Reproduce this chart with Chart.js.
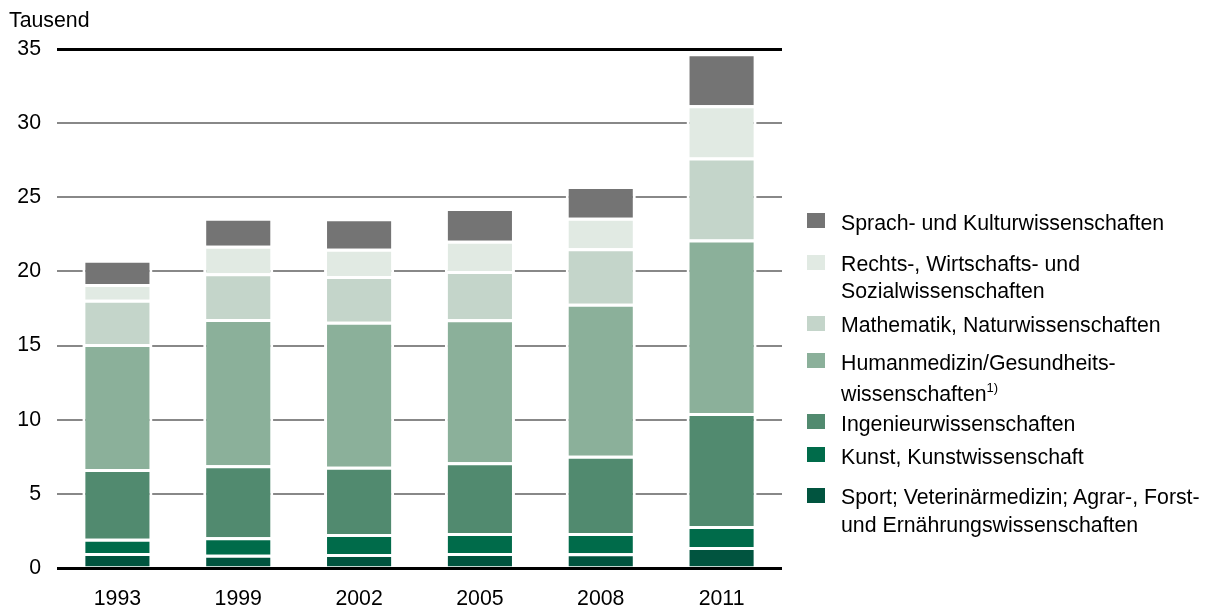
<!DOCTYPE html>
<html>
<head>
<meta charset="utf-8">
<script src="https://cdn.jsdelivr.net/npm/chart.js@4/dist/chart.umd.min.js"></script>
<style>
  html, body { margin: 0; padding: 0; background: #fff; }
  body { width: 1209px; height: 610px; position: relative; overflow: hidden;
         font-family: "Liberation Sans", Arial, sans-serif; color: #000; }
  #c { position: absolute; left: 0; top: 0; }
  #unit { position: absolute; left: 9px; top: 8px; font-size: 21.3px; line-height: 24px; }
  .item { position: absolute; left: 841px; font-size: 21.3px; line-height: 27px; white-space: nowrap; }
  .sw { position: absolute; left: -34px; width: 18px; height: 15px; }
  .sup { font-size: 13px; position: relative; top: -9px; }
</style>
</head>
<body>
<canvas id="c" width="1209" height="610"></canvas>
<div id="unit">Tausend</div>
<div id="legend"></div>
<script>
// ---- data (thousands) ----
const categories = ['1993', '1999', '2002', '2005', '2008', '2011'];
const sport     = [1.01, 0.90, 0.94, 1.01, 0.99, 1.42];
const kunst     = [0.97, 1.17, 1.35, 1.35, 1.37, 1.41];
const ingenieur = [4.70, 4.86, 4.54, 4.77, 5.21, 7.62];
const humanmed  = [8.42, 9.86, 9.78, 9.64, 10.25, 11.71];
const mathNat   = [2.99, 3.08, 3.08, 3.26, 3.74, 5.53];
const rechts    = [1.06, 1.86, 1.84, 2.04, 2.06, 3.51];
const sprach    = [1.64, 1.89, 2.05, 2.20, 2.14, 3.51];
const yTicks    = [0, 5, 10, 15, 20, 25, 30, 35];

const seriesNames = [
  ['Sport; Veterinärmedizin; Agrar-, Forst-', 'und Ernährungswissenschaften'],
  ['Kunst, Kunstwissenschaft'],
  ['Ingenieurwissenschaften'],
  ['Humanmedizin/Gesundheits-', 'wissenschaften'],
  ['Mathematik, Naturwissenschaften'],
  ['Rechts-, Wirtschafts- und', 'Sozialwissenschaften'],
  ['Sprach- und Kulturwissenschaften']
];
const footnotes = ['', '', '', '1)', '', '', ''];
const seriesValues = [sport, kunst, ingenieur, humanmed, mathNat, rechts, sprach];
const seriesColors = ['#01543f', '#006b4a', '#518a6f', '#8bb09a', '#c4d5ca', '#e1eae3', '#747474'];

// legend layout (first-line baselines in px, and extra gap before 2nd line)
const legendBaselines = [505.3, 465, 431.7, 371, 333.3, 272.3, 230.7];
const legendSecondGap = [0.4, 0, 0, 4.3, 0, 0, 0];

const datasets = seriesValues.map((vals, i) => ({
  label: seriesNames[i].join(' '),
  data: vals,
  backgroundColor: seriesColors[i],
  borderColor: '#ffffff',
  borderWidth: 3,
  borderSkipped: 'start',
  inflateAmount: 0,
  barPercentage: 0.58,
  categoryPercentage: 1.0
}));

new Chart(document.getElementById('c'), {
  type: 'bar',
  data: { labels: categories, datasets },
  options: {
    responsive: false,
    animation: false,
    devicePixelRatio: 1,
    layout: { padding: { top: 49, right: 427, bottom: 0, left: 0 } },
    plugins: { legend: { display: false }, tooltip: { enabled: false } },
    scales: {
      x: {
        stacked: true,
        grid: { display: false, drawTicks: false },
        border: { display: false },
        ticks: { color: '#000', padding: 18.5, font: { family: 'Liberation Sans', size: 21.3 } },
        afterFit: s => { s.height = 42; }
      },
      y: {
        stacked: true,
        min: yTicks[0],
        max: yTicks[yTicks.length - 1],
        afterBuildTicks: s => { s.ticks = yTicks.map(v => ({ value: v })); },
        grid: {
          drawTicks: false,
          color: ctx => (ctx.tick && (ctx.tick.value === 0 || ctx.tick.value === 35)) ? '#000000' : '#888888',
          lineWidth: ctx => (ctx.tick && (ctx.tick.value === 0 || ctx.tick.value === 35)) ? 3 : 2
        },
        border: { display: false },
        ticks: { color: '#000', padding: 16, font: { family: 'Liberation Sans', size: 21.3 } },
        afterFit: s => { s.width = 57; }
      }
    }
  }
});

// HTML legend built from the series definitions
const leg = document.getElementById('legend');
seriesNames.forEach((lines, i) => {
  const item = document.createElement('div');
  item.className = 'item';
  item.style.top = (legendBaselines[i] - 20.9) + 'px';
  const sw = document.createElement('div');
  sw.className = 'sw';
  sw.style.background = seriesColors[i];
  sw.style.top = '3.4px';
  item.appendChild(sw);
  lines.forEach((t, k) => {
    const ln = document.createElement('div');
    ln.textContent = t;
    if (k > 0) ln.style.marginTop = legendSecondGap[i] + 'px';
    if (k === lines.length - 1 && footnotes[i]) {
      const s = document.createElement('span');
      s.className = 'sup';
      s.textContent = footnotes[i];
      ln.appendChild(s);
    }
    item.appendChild(ln);
  });
  leg.appendChild(item);
});
</script>
</body>
</html>
